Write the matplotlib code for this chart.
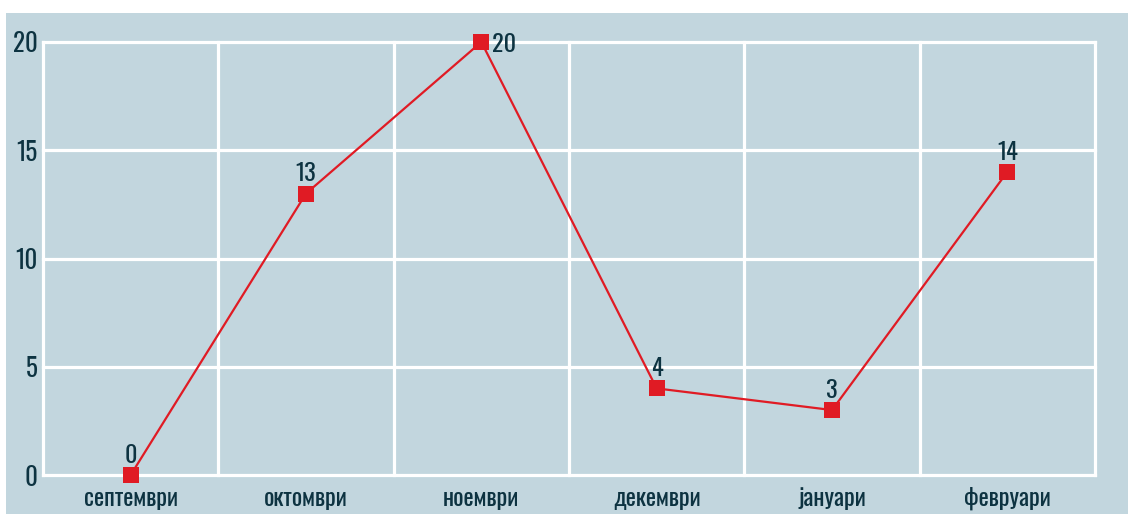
import matplotlib
matplotlib.use("Agg")
import matplotlib.pyplot as plt
from matplotlib import font_manager
from matplotlib.patches import Rectangle

months = ["септември", "октомври", "ноември", "декември", "јануари", "февруари"]
values = [0, 13, 20, 4, 3, 14]
y_ticks = [0, 5, 10, 15, 20]

BG = "#c2d6de"
RED = "#e01b24"
TEXT = "#0d3341"

names = {f.name for f in font_manager.fontManager.ttflist}
font = "DejaVu Sans"
for cand in ["Oswald", "Roboto Condensed", "Liberation Sans Narrow"]:
    if cand in names:
        font = cand
        break
plt.rcParams["font.family"] = [font, "DejaVu Sans"]

fig = plt.figure(figsize=(11.28, 5.14), dpi=100)
fig.patch.set_facecolor("white")
fig.patches.append(Rectangle((6 / 1128, 0), 1, (514 - 13) / 514,
                             transform=fig.transFigure, facecolor=BG,
                             edgecolor="none", zorder=-10))

ax = fig.add_axes([43 / 1128, 39 / 514, (1095 - 43) / 1128, (475 - 42) / 514])
ax.set_facecolor(BG)
for s in ax.spines.values():
    s.set_visible(False)

x = list(range(len(months)))
ax.set_xlim(-0.5, len(months) - 0.5)
ax.set_ylim(0, 20)

# grid
for yv in y_ticks:
    ax.axhline(yv, color="white", lw=2.3, zorder=1, clip_on=False)
for b in range(len(months) + 1):
    ax.axvline(b - 0.5, color="white", lw=2.3, zorder=1, clip_on=False)

ax.plot(x, values, color=RED, lw=1.6, marker="s", markersize=11,
        markeredgewidth=0, zorder=3, clip_on=False)

for i, v in enumerate(values):
    if v == max(values):
        ax.annotate(str(v), (i, v), xytext=(8, -2), textcoords="offset points",
                    ha="left", va="center", fontsize=17.5, color=TEXT)
    else:
        ax.annotate(str(v), (i, v), xytext=(0, 6), textcoords="offset points",
                    ha="center", va="bottom", fontsize=17.5, color=TEXT)

ax.set_xticks(x)
ax.set_xticklabels(months, fontsize=17.5, color=TEXT)
ax.set_yticks(y_ticks)
ax.set_yticklabels([str(t) for t in y_ticks], fontsize=18, color=TEXT)
ax.tick_params(length=0)
ax.tick_params(axis="x", pad=8.5)
ax.tick_params(axis="y", pad=4)

fig.savefig("out.png", dpi=100)
